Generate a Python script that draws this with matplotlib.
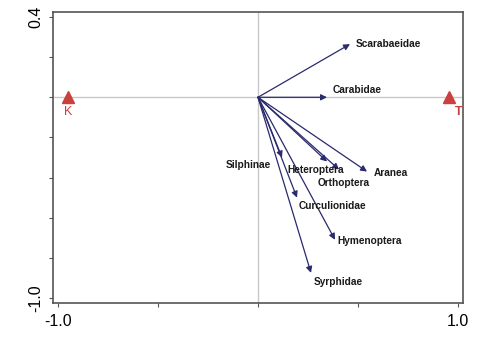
"""
Ordination biplot: taxa arrows with site symbols K and T.
"""

import matplotlib
matplotlib.use("Agg")
import matplotlib.pyplot as plt

# Taxon scores (arrow tips)
taxa = ["Scarabaeidae", "Carabidae", "Aranea", "Orthoptera", "Heteroptera",
        "Silphinae", "Curculionidae", "Hymenoptera", "Syrphidae"]
taxa_x = [0.46, 0.345, 0.545, 0.405, 0.345, 0.12, 0.195, 0.385, 0.265]
taxa_y = [0.265, 0.0, -0.37, -0.36, -0.32, -0.30, -0.50, -0.71, -0.875]

# Sample (site) scores
sites = ["K", "T"]
sites_x = [-0.95, 0.955]
sites_y = [0.0, 0.0]

# Tick labels
x_ticks = [-1.0, -0.5, 0.0, 0.5, 1.0]
x_tick_labels = ["-1.0", "", "", "", "1.0"]
y_ticks = [0.4, 0.2, 0.0, -0.2, -0.4, -0.6, -0.8, -1.0]
y_tick_labels = ["0.4", "", "", "", "", "", "", "-1.0"]

# Label placement (layout only): left edge / vertical centre in data units
label_pos = {
    "Scarabaeidae": (0.49, 0.265),
    "Carabidae": (0.375, 0.035),
    "Aranea": (0.58, -0.375),
    "Orthoptera": (0.30, -0.425),
    "Heteroptera": (0.145, -0.36),
    "Silphinae": (-0.16, -0.335),
    "Curculionidae": (0.205, -0.54),
    "Hymenoptera": (0.395, -0.715),
    "Syrphidae": (0.28, -0.92),
}

ARROW = "#2a2a6e"
RED = "#c9403d"

plt.rcParams["font.family"] = ["Liberation Sans", "DejaVu Sans"]

fig = plt.figure(figsize=(5.0, 3.43), dpi=100)
ax = fig.add_axes([0.106, 0.1166, 0.82, 0.8484])
ax.set_xlim(-1.025, 1.025)
ax.set_ylim(-1.025, 0.425)

# zero lines
ax.axhline(0, color="#c8c8c8", lw=1.0, zorder=1)
ax.axvline(0, color="#c8c8c8", lw=1.0, zorder=1)

# taxon arrows
for name, x, y in zip(taxa, taxa_x, taxa_y):
    ax.annotate("", xy=(x, y), xytext=(0, 0),
                arrowprops=dict(arrowstyle="-|>", color=ARROW, lw=0.9,
                                mutation_scale=9, shrinkA=0, shrinkB=0),
                zorder=3)
    lx, ly = label_pos[name]
    ax.text(lx, ly, name, fontsize=7.3, fontweight="bold", color="#1a1a1a",
            ha="left", va="center", zorder=4)

# sites
ax.plot(sites_x, sites_y, linestyle="none", marker="^", markersize=9,
        color=RED, zorder=5)
ax.text(sites_x[0], sites_y[0] - 0.072, sites[0], color=RED, fontsize=9,
        ha="center", va="center")
ax.text(sites_x[1] + 0.05, sites_y[1] - 0.072, sites[1], color=RED,
        fontsize=9, fontweight="bold", ha="center", va="center")

# axes styling
ax.set_xticks(x_ticks)
ax.set_xticklabels(x_tick_labels)
ax.set_yticks(y_ticks)
ax.set_yticklabels(y_tick_labels, rotation=90, va="center")
ax.tick_params(axis="both", direction="out", length=3, width=0.8,
               color="#555555", labelsize=11.5)
ax.tick_params(axis="x", pad=5)
ax.tick_params(axis="y", pad=4)
for side in ["left", "right", "top", "bottom"]:
    ax.spines[side].set_color("#555555")
    ax.spines[side].set_linewidth(1.2)

fig.savefig("out.png", dpi=100)
